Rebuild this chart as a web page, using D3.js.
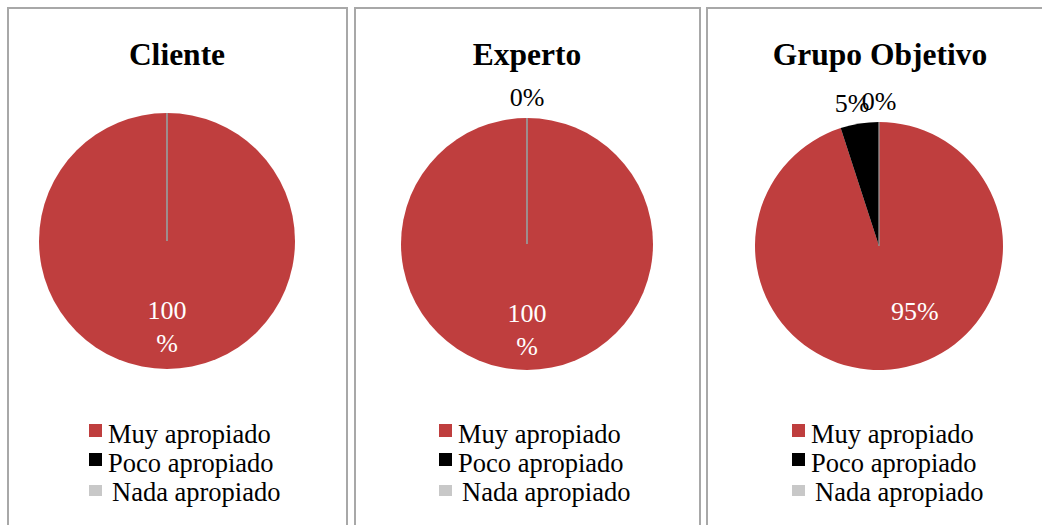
<!DOCTYPE html>
<html>
<head>
<meta charset="utf-8">
<script src="https://cdn.jsdelivr.net/npm/d3@7"></script>
<style>
  body { margin: 0; background: #fff; }
</style>
</head>
<body>
<div id="chart"></div>
<script>
// chart data
var panels = ["Cliente", "Experto", "Grupo Objetivo"];
var categories = ["Muy apropiado", "Poco apropiado", "Nada apropiado"];
var clienteValues = [100, 0, 0];
var expertoValues = [100, 0, 0];
var grupoValues = [95, 5, 0];
var colors = ["#BF3E3E", "#000000", "#C8C8C8"];

var allValues = [clienteValues, expertoValues, grupoValues];

var svgWidth = 1042;
var svgHeight = 525;

var svg = d3.select("#chart")
  .append("svg")
  .attr("width", svgWidth)
  .attr("height", svgHeight);

// layout of each panel
var boxes = [
  { x: 8, w: 339, cx: 167, cy: 241, r: 128, titleX: 177, legX: 89, zeroLabel: false },
  { x: 355, w: 345, cx: 527, cy: 244, r: 126, titleX: 527, legX: 439, zeroLabel: true },
  { x: 707, w: 345, cx: 879, cy: 246, r: 124, titleX: 880, legX: 792, zeroLabel: true }
];

var font = "'Liberation Serif', 'Times New Roman', serif";

var color = d3.scaleOrdinal().domain(categories).range(colors);

var pie = d3.pie().sort(null).value(d => d.value);

panels.forEach(function(name, i) {
  var b = boxes[i];
  var data = categories.map((c, j) => ({ cat: c, value: allValues[i][j] }));
  var total = d3.sum(data, d => d.value);

  // panel frame
  svg.append("rect")
    .attr("x", b.x)
    .attr("y", 8)
    .attr("width", b.w)
    .attr("height", 540)
    .attr("fill", "none")
    .attr("stroke", "#a8a8a8")
    .attr("stroke-width", 2);

  svg.append("text")
    .attr("x", b.titleX)
    .attr("y", 65)
    .attr("text-anchor", "middle")
    .style("font-family", font)
    .style("font-weight", "bold")
    .style("font-size", "31.5px")
    .text(name);

  var g = svg.append("g")
    .attr("transform", `translate(${b.cx}, ${b.cy})`);

  var arc = d3.arc().innerRadius(0).outerRadius(b.r);
  var arcs = pie(data);

  g.selectAll("path")
    .data(arcs)
    .enter()
    .append("path")
    .attr("d", arc)
    .attr("fill", d => color(d.data.cat))
    .attr("stroke", d => d.data.value === 0 ? "#9a9a9a" : "none")
    .attr("stroke-width", 0.8);

  // data labels
  arcs.forEach(function(d) {
    var pct = Math.round(d.data.value / total * 100);
    var mid = (d.startAngle + d.endAngle) / 2;
    var big = d.endAngle - d.startAngle > Math.PI;
    if (big) {
      var t = g.append("text")
        .attr("text-anchor", "middle")
        .attr("fill", "#fff")
        .style("font-family", font)
        .style("font-size", "26px");
      if (pct === 100) {
        t.attr("x", 0).attr("y", 78);
        t.append("tspan").attr("x", 0).text("100");
        t.append("tspan").attr("x", 0).attr("dy", 33).text("%");
      } else {
        t.attr("x", b.r * 0.29).attr("y", b.r * 0.6).text(pct + "%");
      }
    } else {
      // zero slices: only the last one carries a label, and not on every panel
      if (pct === 0 && (!b.zeroLabel || d.index !== categories.length - 1)) return;
      var orr = b.r + 22;
      var ox = Math.sin(mid) * orr;
      var oy = -Math.cos(mid) * orr;
      g.append("text")
        .attr("x", ox + (pct > 0 ? -4 : 0))
        .attr("y", oy + 10)
        .attr("text-anchor", "middle")
        .attr("fill", "#000")
        .style("font-family", font)
        .style("font-size", "26px")
        .text(pct + "%");
    }
  });

  // legend
  var leg = svg.append("g")
    .attr("transform", `translate(${b.legX}, 424)`);
  categories.forEach(function(c, j) {
    leg.append("rect")
      .attr("x", 0)
      .attr("y", j * 29 + (j === 2 ? 3 : 0))
      .attr("width", 13)
      .attr("height", j === 2 ? 11 : 13)
      .attr("fill", color(c));
    leg.append("text")
      .attr("x", j === 2 ? 23 : 19)
      .attr("y", j * 29 + 19)
      .style("font-family", font)
      .style("font-size", "26.5px")
      .text(c);
  });
});
</script>
</body>
</html>
